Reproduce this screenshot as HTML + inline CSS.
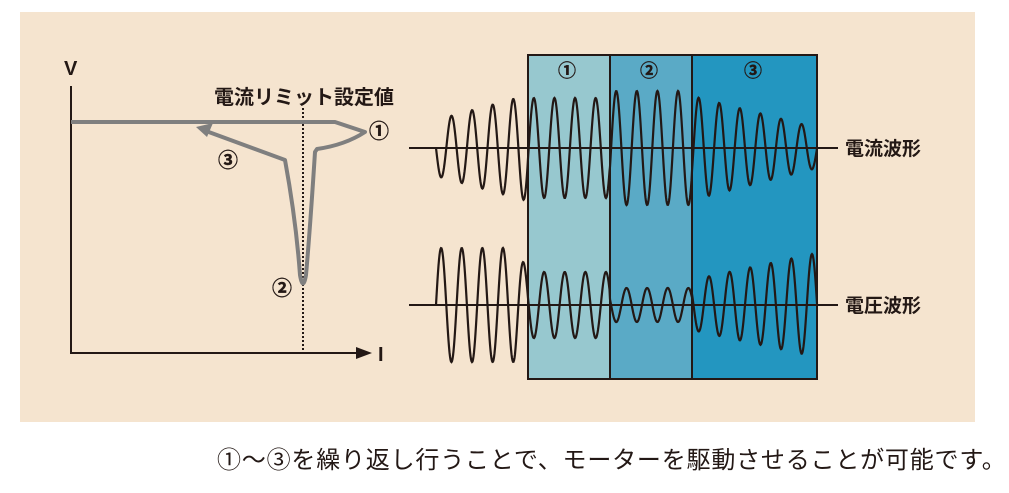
<!DOCTYPE html>
<html><head><meta charset="utf-8"><style>
html,body{margin:0;padding:0;background:#fff;width:1009px;height:493px;overflow:hidden}
svg{display:block}
text{font-family:"Liberation Sans","Noto Sans CJK JP",sans-serif}
</style></head><body>
<svg id="s" width="1009" height="493" viewBox="0 0 1009 493" xmlns="http://www.w3.org/2000/svg">
<rect x="20" y="12" width="955" height="410" fill="#f5e4cf"/>
<text x="64" y="75" font-size="20" font-weight="bold" fill="#231815">V</text>
<line x1="71" y1="86" x2="71" y2="354" stroke="#231815" stroke-width="2"/>
<line x1="70" y1="353" x2="360" y2="353" stroke="#231815" stroke-width="2"/>
<polygon points="356,347 372,353 356,359" fill="#231815"/>
<text x="378" y="361" font-size="20" font-weight="bold" fill="#231815">I</text>
<text x="214" y="104" font-size="20" font-weight="bold" fill="#231815">電流リミット設定値</text>
<line x1="303" y1="108" x2="303" y2="353" stroke="#231815" stroke-width="2" stroke-dasharray="2,2"/>
<path d="M71,122 L335,122 L365,132 Q345,145 317,149 L315,152 Q310,230 306,275 Q303,292 300,275 Q296,220 285,160 L206,131" fill="none" stroke="#7f7f7f" stroke-width="4" stroke-linejoin="round"/>
<polygon points="196,127 213,123 207,137" fill="#7f7f7f"/>
<g font-size="20" font-weight="bold" fill="#231815" stroke="#231815" stroke-width="0.4">
<text x="369" y="138">①</text>
<text x="272" y="295">②</text>
<text x="218" y="167">③</text>
</g>
<rect x="528" y="55" width="82" height="324" fill="#97c8cf"/>
<rect x="610" y="55" width="82" height="324" fill="#5aaac6"/>
<rect x="692" y="55" width="125" height="324" fill="#2396c0"/>
<rect x="528" y="55" width="289" height="324" fill="none" stroke="#231815" stroke-width="2"/>
<line x1="610" y1="55" x2="610" y2="379" stroke="#231815" stroke-width="2"/>
<line x1="692" y1="55" x2="692" y2="379" stroke="#231815" stroke-width="2"/>
<g font-size="18" font-weight="bold" fill="#231815" stroke="#231815" stroke-width="0.4">
<text x="558" y="77">①</text>
<text x="640" y="77">②</text>
<text x="744" y="77">③</text>
</g>
<line x1="409" y1="148" x2="838" y2="148" stroke="#231815" stroke-width="2"/>
<line x1="409" y1="305" x2="838" y2="305" stroke="#231815" stroke-width="2"/>
<path id="cur" fill="none" stroke="#231815" stroke-width="2.2"/>
<path id="vol" fill="none" stroke="#231815" stroke-width="2.2"/>
<text x="845" y="155" font-size="19" font-weight="bold" fill="#231815">電流波形</text>
<text x="845" y="312" font-size="19" font-weight="bold" fill="#231815">電圧波形</text>
<text x="217" y="468" font-size="24" letter-spacing="0.8" fill="#231815">①〜③を繰り返し行うことで、モーターを駆動させることが可能です。</text>
</svg>
<script>
function ca(x){if(x<528)return 28+(x-436)/(528-436)*25;if(x<610)return 50;if(x<692)return 57;return 52-(x-692)/(817-692)*32;}
function va(x){if(x<515)return 57;if(x<528)return 57-(x-515)/13*22;if(x<610)return 33;if(x<692)return 17;return 25+(x-692)/(817-692)*27;}
var P=20.6,c="",v="";
for(var x=436;x<=817;x+=0.5){
 var s=Math.sin(2*Math.PI*(x-436)/P);
 c+=(x==436?"M":"L")+x.toFixed(1)+","+(148+ca(x)*s).toFixed(1)+" ";
 v+=(x==436?"M":"L")+x.toFixed(1)+","+(305-va(x)*s).toFixed(1)+" ";
}
document.getElementById("cur").setAttribute("d",c);
document.getElementById("vol").setAttribute("d",v);
</script>
</body></html>
